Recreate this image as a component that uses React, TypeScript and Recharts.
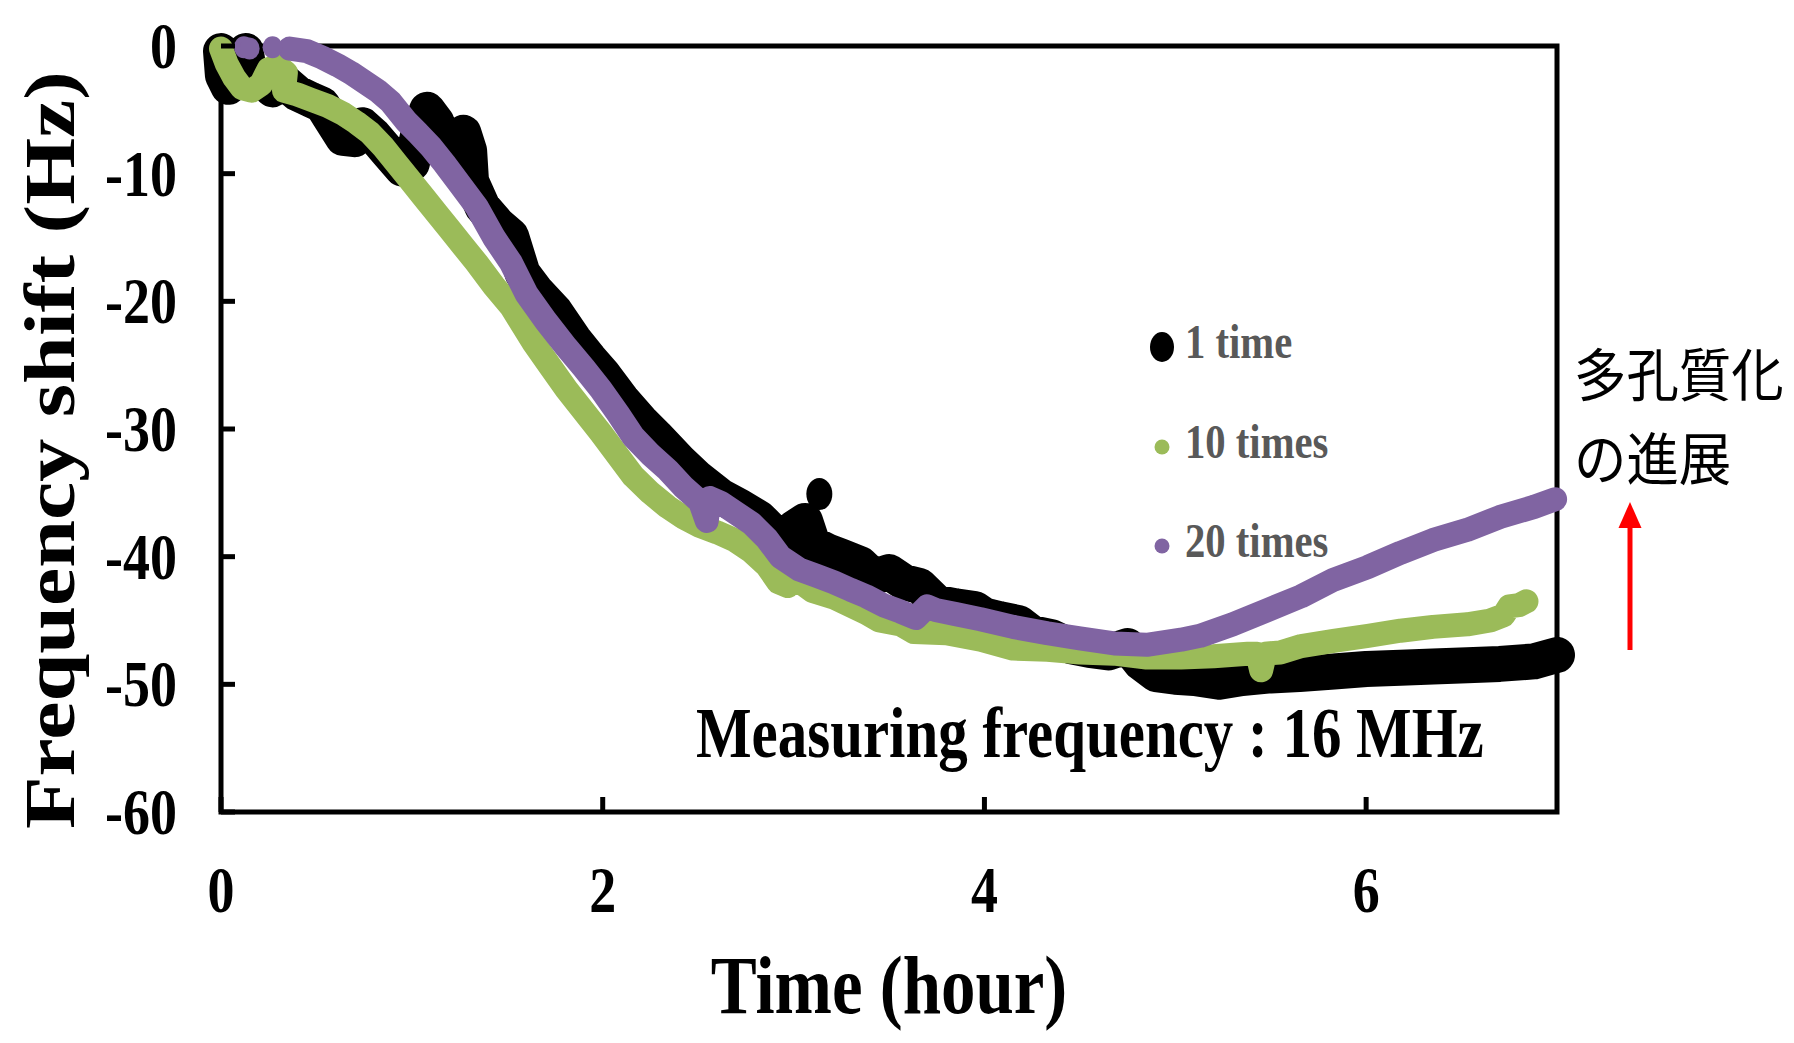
import React from "react";
import {
  ComposedChart, Line, Scatter, XAxis, YAxis, ReferenceArea
} from "recharts";

// [hour, Hz]
const ONE_TIME: number[][] = [
  [0, -0.4], [0.01, -2.3], [0.04, -3.2], [0.08, -2.3], [0.13, -0.4], [0.15, -2.4],
  [0.21, -2.6], [0.27, -3.4], [0.33, -2.8], [0.4, -3.7], [0.47, -4.2], [0.53, -4.6],
  [0.58, -5.8], [0.64, -7.2], [0.7, -7.3], [0.74, -6.2], [0.8, -7.0], [0.88, -8.4],
  [0.95, -9.6], [1.0, -9.2], [1.04, -6.5], [1.08, -5.0], [1.13, -6.0], [1.18, -8.4],
  [1.22, -8.6], [1.27, -6.8], [1.3, -8.2], [1.31, -10.6], [1.37, -12.6], [1.45, -14.0],
  [1.52, -14.9], [1.58, -17.8], [1.65, -19.2], [1.75, -20.8], [1.85, -23.0], [1.93, -24.5],
  [2.0, -25.7], [2.1, -27.7], [2.2, -29.4], [2.28, -30.6], [2.4, -32.5], [2.5, -33.9],
  [2.62, -35.3], [2.72, -36.1], [2.82, -37.0], [2.9, -38.2], [2.96, -39.0], [3.0, -37.8],
  [3.06, -37.2], [3.1, -39.0], [3.18, -39.6], [3.25, -40.0], [3.35, -40.6], [3.42, -41.6],
  [3.5, -41.2], [3.58, -42.0], [3.66, -42.3], [3.75, -43.6], [3.85, -43.9], [3.95, -44.1],
  [4.0, -44.6], [4.08, -44.9], [4.18, -45.2], [4.25, -46.0], [4.35, -46.3], [4.45, -47.0],
  [4.55, -47.3], [4.65, -47.5], [4.75, -47.0], [4.82, -48.3], [4.9, -49.2], [5.0, -49.4],
  [5.1, -49.5], [5.23, -49.8], [5.35, -49.5], [5.5, -49.3], [5.65, -49.2], [5.83, -49.0],
  [6.0, -48.8], [6.18, -48.7], [6.35, -48.6], [6.53, -48.5], [6.7, -48.4], [6.88, -48.2],
  [7.0, -47.7],
];
const ONE_TIME_LOOSE: number[][] = [[3.135, -35.1]];

const TEN_TIMES: number[][] = [
  [0, -0.2], [0.03, -1.4], [0.07, -2.5], [0.11, -3.3], [0.16, -3.5], [0.21, -3.0],
  [0.25, -1.8], [0.3, -1.6], [0.34, -2.1], [0.33, -3.5], [0.4, -3.8], [0.47, -4.2],
  [0.56, -4.7], [0.64, -5.3], [0.71, -6.0], [0.78, -6.8], [0.85, -7.9], [0.92, -9.2],
  [0.99, -10.5], [1.06, -11.8], [1.13, -13.1], [1.2, -14.4], [1.27, -15.7], [1.34, -17.0],
  [1.43, -18.8], [1.52, -20.4], [1.64, -23.3], [1.72, -25.0], [1.81, -26.9], [1.9, -28.6],
  [1.99, -30.3], [2.08, -32.1], [2.16, -33.7], [2.25, -35.0], [2.34, -36.1], [2.42, -36.9],
  [2.51, -37.6], [2.6, -38.1], [2.69, -38.7], [2.78, -39.6], [2.86, -40.7], [2.92, -42.0],
  [2.97, -42.3], [3.0, -41.6], [3.1, -42.7], [3.21, -43.2], [3.38, -44.4], [3.45, -45.0],
  [3.56, -45.3], [3.63, -45.9], [3.8, -46.0], [3.98, -46.5], [4.15, -47.2], [4.33, -47.3],
  [4.5, -47.5], [4.68, -47.6], [4.85, -47.9], [5.03, -47.9], [5.2, -47.8], [5.38, -47.6],
  [5.43, -47.6], [5.45, -48.9], [5.47, -47.6], [5.55, -47.5], [5.66, -47.0], [5.83, -46.6],
  [6.01, -46.2], [6.18, -45.8], [6.35, -45.5], [6.53, -45.3], [6.65, -45.0], [6.72, -44.6],
  [6.75, -43.9], [6.8, -43.8], [6.84, -43.5],
];

const TWENTY_TIMES: number[][] = [
  [0.36, -0.2], [0.45, -0.4], [0.53, -0.9], [0.61, -1.5], [0.68, -2.1], [0.75, -2.8],
  [0.82, -3.5], [0.89, -4.4], [0.97, -5.9], [1.03, -6.8], [1.1, -7.9], [1.17, -9.2],
  [1.25, -10.8], [1.34, -12.6], [1.43, -15.0], [1.52, -17.0], [1.6, -19.4], [1.7, -21.5],
  [1.81, -23.6], [1.9, -25.2], [1.99, -26.9], [2.08, -28.8], [2.16, -30.6], [2.25, -32.0],
  [2.34, -33.2], [2.42, -34.5], [2.51, -35.7], [2.545, -37.2], [2.56, -35.4], [2.62, -35.8],
  [2.69, -36.5], [2.78, -37.4], [2.86, -38.6], [2.93, -40.0], [3.03, -41.0], [3.12, -41.5],
  [3.21, -42.0], [3.3, -42.6], [3.38, -43.1], [3.47, -43.8], [3.56, -44.3], [3.64, -44.8],
  [3.7, -43.9], [3.75, -44.2], [3.85, -44.5], [3.98, -44.9], [4.15, -45.5], [4.33, -46.0],
  [4.5, -46.4], [4.68, -46.8], [4.85, -46.9], [5.03, -46.5], [5.13, -46.2], [5.3, -45.3],
  [5.48, -44.2], [5.66, -43.1], [5.83, -41.8], [6.01, -40.8], [6.18, -39.7], [6.35, -38.7],
  [6.53, -37.9], [6.7, -36.9], [6.88, -36.1], [6.99, -35.5],
];
const TWENTY_TIMES_LOOSE: number[][] = [[0.12, -0.1], [0.15, -0.2], [0.27, -0.1]];

const X_TICKS = [0, 2, 4, 6];
const Y_TICKS = [0, -10, -20, -30, -40, -50, -60];

const SERIES = [
  { name: "1 time", color: "#000000", width: 36, data: ONE_TIME },
  { name: "10 times", color: "#9BBB59", width: 24, data: TEN_TIMES },
  { name: "20 times", color: "#8064A2", width: 24, data: TWENTY_TIMES },
];

const SERIF = '"Liberation Serif", "Times New Roman", serif';
const SQ = 0.83; // the original artwork is squeezed horizontally

const toPts = (rows: number[][]) => rows.map(([h, v]) => ({ h, v }));

const YTick = ({ x, y, payload }: any) => (
  <g>
    <line x1={x} x2={x + 14} y1={y} y2={y} stroke="#000" strokeWidth={5} />
    <text transform={`translate(${x - 44},${y + 22}) scale(${SQ},1)`}
      textAnchor="end" fontSize={65} fontWeight="bold" fontFamily={SERIF} fill="#000">
      {payload.value}
    </text>
  </g>
);

const XTick = ({ x, y, payload }: any) => (
  <g>
    <line x1={x} x2={x} y1={y} y2={y - 15} stroke="#000" strokeWidth={5} />
    <text transform={`translate(${x},${y + 100}) scale(${SQ},1)`}
      textAnchor="middle" fontSize={65} fontWeight="bold" fontFamily={SERIF} fill="#000">
      {payload.value}
    </text>
  </g>
);

function Overlay() {
  const legendRows = [
    { y: 358, rx: 12, ry: 15 },
    { y: 458, rx: 7.5, ry: 7.5 },
    { y: 557, rx: 7.5, ry: 7.5 },
  ];
  const cjk = '"Noto Sans CJK JP", sans-serif';
  return (
    <svg width={1794} height={1043}
      style={{ position: "absolute", left: 0, top: 0, pointerEvents: "none" }}>
      <text transform={`translate(74,450) scale(${SQ},1) rotate(-90)`}
        textAnchor="middle" fontSize={86} fontWeight="bold" fontFamily={SERIF}>
        Frequency shift (Hz)
      </text>
      <text transform={`translate(889,1013) scale(${SQ},1)`}
        textAnchor="middle" fontSize={83} fontWeight="bold" fontFamily={SERIF}>
        Time (hour)
      </text>
      <text transform={`translate(696,757) scale(${SQ},1)`}
        fontSize={71} fontWeight="bold" fontFamily={SERIF}>
        Measuring frequency : 16 MHz
      </text>
      {SERIES.map((s, i) => (
        <g key={s.name}>
          <ellipse cx={1162} cy={legendRows[i].y - 11} rx={legendRows[i].rx}
            ry={legendRows[i].ry} fill={s.color} />
          <text transform={`translate(1185,${legendRows[i].y}) scale(${SQ},1)`}
            fontSize={49} fontWeight="bold" fontFamily={SERIF} fill="#595959">
            {s.name}
          </text>
        </g>
      ))}
      <text transform="translate(1574,396) scale(0.92,1)" fontFamily={cjk} fontSize={57}>
        多孔質化
      </text>
      <text transform="translate(1574,480) scale(0.92,1)" fontFamily={cjk} fontSize={57}>
        の進展
      </text>
      <line x1={1630} x2={1630} y1={650} y2={526} stroke="#FF0000" strokeWidth={5} />
      <polygon points="1630,502 1618.5,528 1641.5,528" fill="#FF0000" />
    </svg>
  );
}

export default function App() {
  return (
    <div style={{ position: "absolute", left: 0, top: 0, width: 1794, height: 1043, background: "#fff" }}>
      <ComposedChart width={1794} height={1043}
        margin={{ top: 46, right: 237, bottom: 131, left: 141 }}>
        <XAxis type="number" dataKey="h" domain={[0, 7]} ticks={X_TICKS}
          axisLine={false} tickLine={false} tickSize={0} tickMargin={0}
          height={100} tick={(p: any) => <XTick {...p} />} allowDuplicatedCategory />
        <YAxis type="number" dataKey="v" domain={[-60, 0]} ticks={Y_TICKS}
          axisLine={false} tickLine={false} tickSize={0} tickMargin={0}
          width={80} tick={(p: any) => <YTick {...p} />} />
        {SERIES.map(s => (
          <Line key={s.name} name={s.name} data={toPts(s.data)} dataKey="v"
            type="linear" stroke={s.color} strokeWidth={s.width}
            strokeLinecap="round" strokeLinejoin="round"
            dot={false} activeDot={false} isAnimationActive={false} />
        ))}
        <Scatter data={toPts(ONE_TIME_LOOSE)} dataKey="v" isAnimationActive={false}
          shape={(p: any) => <ellipse cx={p.cx} cy={p.cy} rx={13} ry={16} fill="#000" />} />
        <Scatter data={toPts(TWENTY_TIMES_LOOSE)} dataKey="v" isAnimationActive={false}
          shape={(p: any) => <ellipse cx={p.cx} cy={p.cy} rx={10} ry={11} fill="#8064A2" />} />
        <ReferenceArea x1={0} x2={7} y1={-60} y2={0} fill="none"
          stroke="#000" strokeWidth={5} />
      </ComposedChart>
      <Overlay />
    </div>
  );
}
